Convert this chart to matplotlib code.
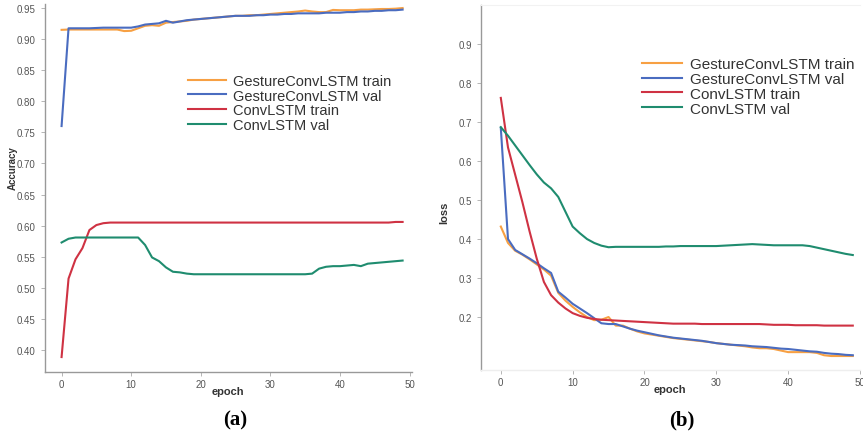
import matplotlib
matplotlib.use("Agg")
import matplotlib.pyplot as plt

plt.rcParams["font.family"] = ["Liberation Sans", "DejaVu Sans"]

epochs = list(range(50))

# accuracy (a)
acc_gesture_train = [0.9145, 0.915, 0.915, 0.915, 0.915, 0.915, 0.915, 0.915, 0.915, 0.9125,
                     0.913, 0.917, 0.921, 0.922, 0.921, 0.926, 0.927, 0.928, 0.929, 0.931,
                     0.932, 0.933, 0.934, 0.935, 0.936, 0.937, 0.937, 0.938, 0.938, 0.939,
                     0.940, 0.941, 0.942, 0.943, 0.944, 0.9455, 0.944, 0.943, 0.943, 0.9465,
                     0.946, 0.946, 0.946, 0.947, 0.947, 0.9475, 0.948, 0.948, 0.9485, 0.9495]
acc_gesture_val = [0.760, 0.917, 0.917, 0.917, 0.917, 0.9175, 0.918, 0.918, 0.918, 0.918,
                   0.918, 0.920, 0.923, 0.924, 0.925, 0.929, 0.926, 0.928, 0.930, 0.931,
                   0.932, 0.933, 0.934, 0.935, 0.936, 0.937, 0.937, 0.937, 0.938, 0.938,
                   0.939, 0.939, 0.940, 0.940, 0.941, 0.941, 0.941, 0.941, 0.942, 0.942,
                   0.942, 0.943, 0.943, 0.944, 0.944, 0.945, 0.945, 0.946, 0.946, 0.947]
acc_conv_train = [0.389, 0.515, 0.546, 0.564, 0.593, 0.601, 0.604, 0.605, 0.605, 0.605,
                  0.605, 0.605, 0.605, 0.605, 0.605, 0.605, 0.605, 0.605, 0.605, 0.605,
                  0.605, 0.605, 0.605, 0.605, 0.605, 0.605, 0.605, 0.605, 0.605, 0.605,
                  0.605, 0.605, 0.605, 0.605, 0.605, 0.605, 0.605, 0.605, 0.605, 0.605,
                  0.605, 0.605, 0.605, 0.605, 0.605, 0.605, 0.605, 0.605, 0.606, 0.606]
acc_conv_val = [0.573, 0.579, 0.581, 0.581, 0.581, 0.581, 0.581, 0.581, 0.581, 0.581,
                0.581, 0.581, 0.569, 0.549, 0.543, 0.533, 0.526, 0.525, 0.523, 0.522,
                0.522, 0.522, 0.522, 0.522, 0.522, 0.522, 0.522, 0.522, 0.522, 0.522,
                0.522, 0.522, 0.522, 0.522, 0.522, 0.522, 0.523, 0.531, 0.534, 0.535,
                0.535, 0.536, 0.537, 0.535, 0.539, 0.540, 0.541, 0.542, 0.543, 0.544]

# loss (b)
loss_gesture_train = [0.432, 0.390, 0.370, 0.360, 0.348, 0.335, 0.322, 0.306, 0.262, 0.242,
                      0.226, 0.212, 0.200, 0.192, 0.193, 0.200, 0.178, 0.178, 0.170, 0.163,
                      0.158, 0.155, 0.152, 0.149, 0.146, 0.144, 0.142, 0.140, 0.138, 0.136,
                      0.133, 0.131, 0.129, 0.127, 0.125, 0.122, 0.120, 0.120, 0.118, 0.114,
                      0.110, 0.110, 0.110, 0.110, 0.108, 0.102, 0.100, 0.100, 0.100, 0.100]
loss_gesture_val = [0.685, 0.400, 0.372, 0.361, 0.350, 0.338, 0.325, 0.313, 0.265, 0.250,
                    0.234, 0.222, 0.210, 0.197, 0.184, 0.182, 0.182, 0.176, 0.170, 0.165,
                    0.161, 0.157, 0.153, 0.150, 0.147, 0.145, 0.143, 0.141, 0.139, 0.136,
                    0.133, 0.131, 0.129, 0.128, 0.127, 0.125, 0.124, 0.123, 0.121, 0.119,
                    0.118, 0.116, 0.114, 0.112, 0.111, 0.108, 0.106, 0.105, 0.103, 0.102]
loss_conv_train = [0.762, 0.635, 0.565, 0.495, 0.420, 0.350, 0.290, 0.256, 0.237, 0.222,
                   0.210, 0.203, 0.198, 0.195, 0.193, 0.192, 0.191, 0.190, 0.189, 0.188,
                   0.187, 0.186, 0.185, 0.184, 0.183, 0.183, 0.183, 0.183, 0.182, 0.182,
                   0.182, 0.182, 0.182, 0.182, 0.182, 0.182, 0.182, 0.181, 0.180, 0.180,
                   0.180, 0.179, 0.179, 0.179, 0.179, 0.178, 0.178, 0.178, 0.178, 0.178]
loss_conv_val = [0.687, 0.665, 0.640, 0.615, 0.590, 0.566, 0.545, 0.530, 0.508, 0.470,
                 0.432, 0.415, 0.400, 0.390, 0.383, 0.379, 0.380, 0.380, 0.380, 0.380,
                 0.380, 0.380, 0.380, 0.381, 0.381, 0.382, 0.382, 0.382, 0.382, 0.382,
                 0.382, 0.383, 0.384, 0.385, 0.386, 0.387, 0.386, 0.385, 0.384, 0.384,
                 0.384, 0.384, 0.384, 0.382, 0.378, 0.374, 0.370, 0.366, 0.362, 0.359]

labels = ["GestureConvLSTM train", "GestureConvLSTM val", "ConvLSTM train", "ConvLSTM val"]
colors = ["#f7a043", "#4a6cc0", "#cf3243", "#1f8c6f"]

acc_series = [acc_gesture_train, acc_gesture_val, acc_conv_train, acc_conv_val]
loss_series = [loss_gesture_train, loss_gesture_val, loss_conv_train, loss_conv_val]


def style_axes(ax, spine_color="#999999"):
    for side in ["top", "right"]:
        ax.spines[side].set_visible(False)
    for side in ["left", "bottom"]:
        ax.spines[side].set_color(spine_color)
        ax.spines[side].set_linewidth(1.0)
    ax.tick_params(colors="#aaaaaa", labelcolor="#555555", labelsize=7, length=3, width=0.6)
    ax.tick_params(axis="x", pad=2)


fig = plt.figure(figsize=(8.63, 4.35), dpi=100)

ax1 = fig.add_axes([0.052, 0.1425, 0.425, 0.846])
for vals, lab, col in zip(acc_series, labels, colors):
    ax1.plot(epochs, vals, color=col, lw=1.5, label=lab)
ax1.set_xlim(-2.4, 50.3)
ax1.set_ylim(0.365, 0.956)
ax1.set_xticks([0, 10, 20, 30, 40, 50])
ax1.set_yticks([0.40, 0.45, 0.50, 0.55, 0.60, 0.65, 0.70, 0.75, 0.80, 0.85, 0.90, 0.95])
ax1.set_yticklabels([f"{v:.2f}" for v in ax1.get_yticks()])
ax1.set_xlabel("epoch", fontsize=8, fontweight="bold", color="#333333", labelpad=-2)
ax1.set_ylabel("Accuracy", fontsize=7, fontweight="bold", color="#333333")
ax1.yaxis.set_label_coords(-0.075, 0.557)
style_axes(ax1)
ax1.legend(loc="upper left", bbox_to_anchor=(0.37, 0.83), frameon=False, fontsize=10.5,
           handlelength=2.6, handletextpad=0.5, labelspacing=0.05, borderpad=0,
           labelcolor="#333333")

ax2 = fig.add_axes([0.557, 0.147, 0.4395, 0.839])
for vals, lab, col in zip(loss_series, labels, colors):
    ax2.plot(epochs, vals, color=col, lw=1.5, label=lab)
ax2.set_xlim(-2.8, 50)
ax2.set_ylim(0.064, 1.0)
ax2.set_xticks([0, 10, 20, 30, 40, 50])
ax2.set_yticks([0.2, 0.3, 0.4, 0.5, 0.6, 0.7, 0.8, 0.9])
ax2.set_xlabel("epoch", fontsize=8, fontweight="bold", color="#333333", labelpad=-2)
ax2.set_ylabel("loss", fontsize=8, fontweight="bold", color="#333333")
ax2.yaxis.set_label_coords(-0.082, 0.433)
style_axes(ax2)
ax2.spines["bottom"].set_color("#eeeeee")
ax2.spines["top"].set_visible(True)
ax2.spines["top"].set_color("#f2f2f2")
ax2.legend(loc="upper left", bbox_to_anchor=(0.406, 0.878), frameon=False, fontsize=11,
           handlelength=2.6, handletextpad=0.5, labelspacing=0.05, borderpad=0,
           labelcolor="#333333")

fig.text(0.272, 0.022, "(a)", ha="center", fontsize=15, fontweight="bold",
         family=["Liberation Serif", "DejaVu Serif"])
fig.text(0.79, 0.022, "(b)", ha="center", fontsize=15, fontweight="bold",
         family=["Liberation Serif", "DejaVu Serif"])

fig.savefig("out.png", dpi=100)
